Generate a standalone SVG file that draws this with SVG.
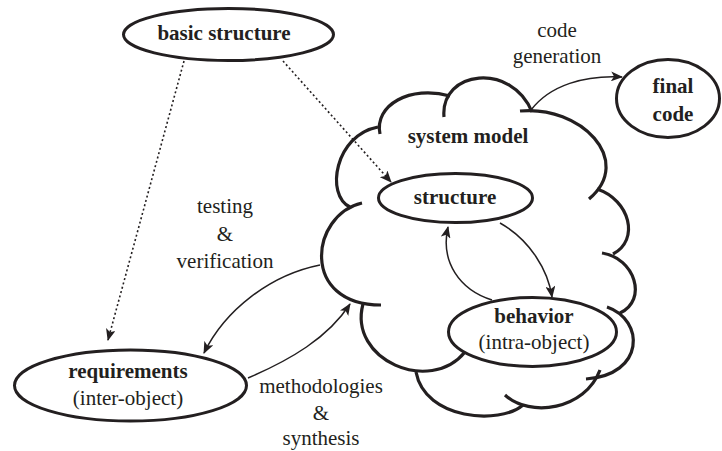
<svg xmlns="http://www.w3.org/2000/svg" width="722" height="451" viewBox="0 0 722 451">
<defs>
<marker id="ah" viewBox="0 0 12 10" refX="11" refY="5" markerWidth="12" markerHeight="10" markerUnits="userSpaceOnUse" orient="auto">
<path d="M0,0 L12,5 L0,10 L3,5 z" fill="#231f20"/>
</marker>
<style>
.node{fill:#fff;stroke:#231f20;stroke-width:3}
.cloud{fill:none;stroke:#231f20;stroke-width:3.2;stroke-linecap:butt}
.edge{fill:none;stroke:#231f20;stroke-width:1.5}
.dot{fill:none;stroke:#231f20;stroke-width:1.6;stroke-dasharray:2 2.5}
svg text, text, tspan{font-family:Liberation Serif, Times New Roman, serif !important}
</style>
</defs>
<rect width="722" height="451" fill="#fff"/>
<g id="system-model">
<path class="cloud" d="M380,134 C374,105 410,85 450,96"/>
<path class="cloud" d="M444,117 C440,70 512,62 532,112"/>
<path class="cloud" d="M520,111 C580,105 635,160 589,199"/>
<path class="cloud" d="M597,189 C630,200 640,240 613,254"/>
<path class="cloud" d="M602,253 C635,258 648,300 620,313"/>
<path class="cloud" d="M607,307 C645,320 645,375 586,379"/>
<path class="cloud" d="M505,395 C530,418 585,410 600,370"/>
<path class="cloud" d="M416,372 C425,420 500,425 523,405"/>
<path class="cloud" d="M363,304 C348,360 430,395 465,352"/>
<path class="cloud" d="M362,203 C310,215 300,305 381,305"/>
<path class="cloud" d="M378,127 C335,135 325,195 350,207"/>
<text x="468" y="143" font-family="Liberation Serif" font-size="21" font-weight="bold" fill="#231f20" text-anchor="middle">system model</text>
</g>
<g id="basic-structure">
<ellipse class="node" cx="228.5" cy="34.5" rx="105" ry="26"/>
<text x="224" y="40" font-family="Liberation Serif" font-size="21" font-weight="bold" fill="#231f20" text-anchor="middle">basic structure</text>
</g>
<g id="requirements">
<ellipse class="node" cx="130.5" cy="385.5" rx="116" ry="35.5"/>
<text x="128" y="378" font-family="Liberation Serif" font-size="21" font-weight="bold" fill="#231f20" text-anchor="middle">requirements</text>
<text x="128" y="405" font-family="Liberation Serif" font-size="21" fill="#231f20" text-anchor="middle">(inter-object)</text>
</g>
<g id="structure">
<ellipse class="node" cx="455.5" cy="198" rx="77" ry="24.5"/>
<text x="455" y="204" font-family="Liberation Serif" font-size="21" font-weight="bold" fill="#231f20" text-anchor="middle">structure</text>
</g>
<g id="behavior">
<ellipse class="node" cx="532.5" cy="332" rx="84" ry="34.5"/>
<text x="534" y="323" font-family="Liberation Serif" font-size="21" font-weight="bold" fill="#231f20" text-anchor="middle">behavior</text>
<text x="534" y="349" font-family="Liberation Serif" font-size="21" fill="#231f20" text-anchor="middle">(intra-object)</text>
</g>
<g id="final-code">
<ellipse class="node" cx="668" cy="98.5" rx="51.5" ry="39"/>
<text x="673" y="93" font-family="Liberation Serif" font-size="21" font-weight="bold" fill="#231f20" text-anchor="middle">final</text>
<text x="673" y="121" font-family="Liberation Serif" font-size="21" font-weight="bold" fill="#231f20" text-anchor="middle">code</text>
</g>
<g id="connectors">
<path class="dot" d="M184,61 L108,340" marker-end="url(#ah)"/>
<path class="dot" d="M283,61 L391,182" marker-end="url(#ah)"/>
<path class="edge" d="M500,223 C530,240 548,270 552,297" marker-end="url(#ah)"/>
<path class="edge" d="M492,300 C460,290 440,262 448,227" marker-end="url(#ah)"/>
<path class="edge" d="M320,265 C270,275 225,310 204,353" marker-end="url(#ah)"/>
<path class="edge" d="M248,378 C290,360 328,338 350,304" marker-end="url(#ah)"/>
<path class="edge" d="M531,110 C550,85 585,75 622,77" marker-end="url(#ah)"/>
<text x="557" y="37" font-family="Liberation Serif" font-size="21" fill="#231f20" text-anchor="middle">code</text>
<text x="557" y="63" font-family="Liberation Serif" font-size="21" fill="#231f20" text-anchor="middle">generation</text>
<text x="225" y="213" font-family="Liberation Serif" font-size="21" fill="#231f20" text-anchor="middle">testing</text>
<text x="225" y="241" font-family="Liberation Serif" font-size="21" fill="#231f20" text-anchor="middle">&amp;</text>
<text x="225" y="268" font-family="Liberation Serif" font-size="21" fill="#231f20" text-anchor="middle">verification</text>
<text x="321" y="393" font-family="Liberation Serif" font-size="21" fill="#231f20" text-anchor="middle">methodologies</text>
<text x="321" y="420" font-family="Liberation Serif" font-size="21" fill="#231f20" text-anchor="middle">&amp;</text>
<text x="321" y="445" font-family="Liberation Serif" font-size="21" fill="#231f20" text-anchor="middle">synthesis</text>
</g>
</svg>
